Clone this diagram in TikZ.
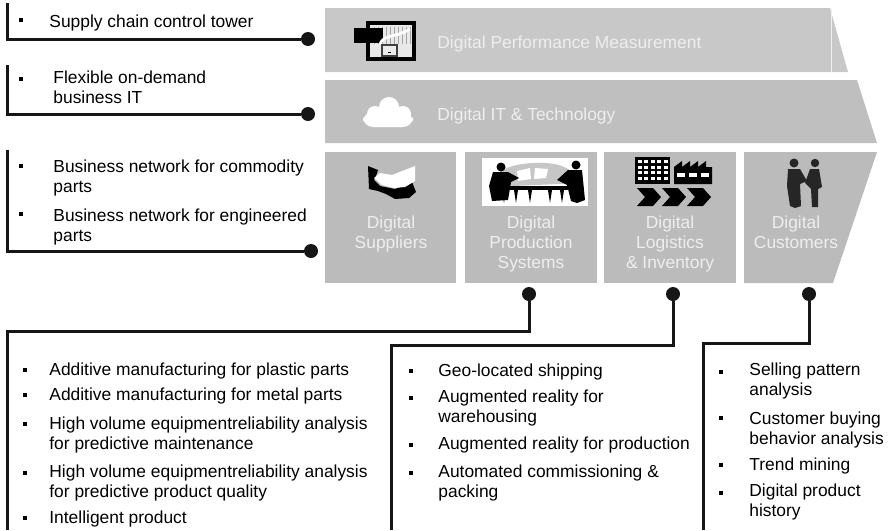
\documentclass[tikz,border=0pt]{standalone}
\usepackage{fontspec}
\setmainfont{Liberation Sans}
\usepackage{tikz}
\usetikzlibrary{positioning}

\definecolor{bandTop}{RGB}{200,200,200}
\definecolor{bandMid}{RGB}{191,191,191}
\definecolor{tile}{RGB}{187,187,187}
\definecolor{tileText}{RGB}{238,238,238}
\definecolor{linkBlack}{RGB}{22,22,22}

\newcommand{\listfont}{\fontsize{8.7pt}{10pt}\selectfont}

\begin{document}
\begin{tikzpicture}[x=0.5pt, y=-0.5pt,
		tiletext/.style={font=\listfont, text=tileText, align=center, inner sep=0, anchor=base},
		bandtext/.style={font=\listfont, text=tileText, inner sep=0, anchor=base west},
		item/.style={font=\listfont, align=left, inner sep=0, anchor=base west},
		pin/.style={circle, fill=linkBlack, minimum size=7pt, inner sep=0},
		link/.style={line width=1.5pt, draw=linkBlack}
		]
		\useasboundingbox (0,0) rectangle (888,530);

		% bands and tiles
		\fill[bandTop] (325,8) -- (830,8) -- (848,72) -- (325,72) -- cycle;
		\draw[white!88!gray, line width=0.4pt] (831,8) -- (831,72);
		\fill[bandMid] (325,80) -- (857,80) -- (877,143) -- (325,143) -- cycle;
		\fill[tile] (325,152) rectangle (456,283);
		\fill[tile] (465,152) rectangle (597,283);
		\fill[tile] (604,152) rectangle (736,283);
		\fill[tile] (744,152) -- (877,152) -- (833,283) -- (744,283) -- cycle;

		% (base of a multi-line node = its last line)
		\node[bandtext] (pm) at (437,48) {Digital Performance Measurement};
		\node[bandtext] (it) at (437,120) {Digital IT \& Technology};
		\node[tiletext] (sup) at (391,248) {Digital\\Suppliers};
		\node[tiletext] (prod) at (531,268) {Digital\\Production\\Systems};
		\node[tiletext] (log) at (670,268) {Digital\\Logistics\\\& Inventory};
		\node[tiletext] (cus) at (796,248) {Digital\\Customers};

		% icon: monitor with chart
		\fill[black] (366,21) rectangle (416,61);
		\fill[white!82!gray] (370,25) rectangle (412,57);
		\foreach \gx in {374,378,...,410} \draw[gray!70, line width=0.2pt] (\gx,27) -- (\gx,44);
		\fill[black] (354,28) rectangle (383,43);
		\draw[white, line width=1.4pt] (380,44) .. controls (384,34) and (396,38) .. (410,29);
		\draw[black!75, line width=0.6pt, fill=white!85!gray] (382,45) rectangle (397,56);
		\fill[black] (388,52) rectangle (391,53);

		% icon: cloud
		\fill[white] (375,114) circle (8) (389,107) circle (10) (403,114) circle (8);
		\fill[white, rounded corners=5] (363,112) rectangle (413,127);

		% icon: handshake
		\fill[black] (368,166) -- (378,170) -- (376,176) -- (374,180) -- (380,186) -- (395,189)
			-- (412,182) -- (416,192) -- (409,198) -- (395,199) -- (386,194) -- (378,191) -- (369,189) -- cycle;
		\fill[white] (374,178) -- (380,173) -- (392,175) -- (415,166) -- (415,181) -- (405,187)
			-- (394,188) -- (382,185) -- cycle;

		% icon: assembly line picture
		\fill[white] (482,158) rectangle (588,206);
		\fill[gray!45] (491,180) .. controls (500,167) and (520,162) .. (545,163)
			.. controls (565,164) and (576,172) .. (581,183) -- (491,187) -- cycle;
		\fill[white] (517,171) -- (530,168) -- (531,179) -- (518,181) -- cycle;
		\fill[white] (535,168) -- (548,169) -- (546,178) -- (534,179) -- cycle;
		\fill[black] (490,186) rectangle (576,190);
		\foreach \lx in {502,514,528,548,560} \fill[black] (\lx,190) -- (\lx+2,203) -- (\lx+4,190) -- cycle;
		\fill[black] (501,167) circle (4.5);
		\fill[black] (493,172) -- (508,172) -- (519,178) -- (511,182) -- (508,200) -- (492,201) -- (489,186) -- cycle;
		\fill[black] (576,165) circle (4.5);
		\fill[black] (568,170) -- (582,170) -- (585,200) -- (577,203) -- (571,201) -- (567,185) -- (557,180) -- cycle;

		% icon: warehouse, factory and flow
		\fill[black] (635,157) rectangle (670,184);
		\foreach \i in {0,...,4}
			\foreach \j in {0,...,3}
				\fill[white] (638+\i*6.4,160+\j*5.6) rectangle ++(4,3.2);
		\fill[black] (674,184) -- (674,167) -- (682,161) -- (682,167) -- (690,161) -- (690,167)
			-- (698,161) -- (698,167) -- (706,161) -- (706,167) -- (712,167) -- (712,184) -- cycle;
		\foreach \wx in {677,689,701} \fill[white] (\wx,173) rectangle ++(8,4);
		\foreach \cx in {637,662,687}
			\fill[black] (\cx,188) -- (\cx+16,188) -- (\cx+24,197) -- (\cx+16,206) -- (\cx,206) -- (\cx+8,197) -- cycle;

		% icon: two people shaking hands
		\fill[black!85] (794,163) circle (4.5);
		\fill[black!85] (788,169) -- (800,169) -- (807,181) -- (800,184) -- (801,206) -- (795,208)
			-- (790,206) -- (787,186) -- cycle;
		\fill[black!85] (815,163) circle (4.2);
		\fill[black!85] (810,169) -- (819,169) -- (822,187) -- (818,189) -- (818,207) -- (812,207)
			-- (811,189) -- (805,183) -- cycle;

		% text lists
		\node[item] (t1) at (49,27) {Supply chain control tower};
		\node[item] (t2) at (53,103) {Flexible on-demand\\business IT};
		\node[item] (t3) at (53,192) {Business network for commodity\\parts};
		\node[item] (t4) at (53,241) {Business network for engineered\\parts};

		\node[item] (b1) at (49,375) {Additive manufacturing for plastic parts};
		\node[item] (b2) at (49,400) {Additive manufacturing for metal parts};
		\node[item] (b3) at (49,449) {High volume equipmentreliability analysis\\for predictive maintenance};
		\node[item] (b4) at (49,497) {High volume equipmentreliability analysis\\for predictive product quality};
		\node[item] (b5) at (49,523) {Intelligent product};

		\node[item] (m1) at (438,376) {Geo-located shipping};
		\node[item] (m2) at (438,422) {Augmented reality for\\warehousing};
		\node[item] (m3) at (438,449) {Augmented reality for production};
		\node[item] (m4) at (438,497) {Automated commissioning \&\\packing};

		\node[item] (r1) at (749,395) {Selling pattern\\analysis};
		\node[item] (r2) at (749,444) {Customer buying\\behavior analysis};
		\node[item] (r3) at (749,470) {Trend mining};
		\node[item] (r4) at (749,516) {Digital product\\history};

		\foreach \bx/\by in {21/20, 21/79, 21/166, 21/214,
				25/370, 25/395, 25/424, 25/473, 25/518,
				411/371, 411/398, 411/445, 411/473,
				721/372, 721/418, 721/465, 721/493}
			\fill[black] (\bx-2,\by-2) rectangle ++(4,4);

		% pins and links
		\node[pin] (pPM) at (308,39) {};
		\node[pin] (pIT) at (308,114) {};
		\node[pin] (pSup) at (311,251) {};
		\node[pin] (pProd) at (529,294) {};
		\node[pin] (pLog) at (673,294) {};
		\node[pin] (pCus) at (809,294) {};

		\coordinate (kPM) at (7,3);
		\coordinate (kIT) at (7,65);
		\coordinate (kSup) at (7,150);
		\coordinate (kProd) at (7,331);
		\coordinate (eProd) at (7,530);
		\coordinate (kLog) at (391,345);
		\coordinate (eLog) at (391,530);
		\coordinate (kCus) at (703,343);
		\coordinate (eCus) at (703,530);

		\draw[link] (kPM) |- (pPM);
		\draw[link] (kIT) |- (pIT);
		\draw[link] (kSup) |- (pSup);
		\draw[link] (pProd) |- (kProd) -- (eProd);
		\draw[link] (pLog) |- (kLog) -- (eLog);
		\draw[link] (pCus) |- (kCus) -- (eCus);
	\end{tikzpicture}
\end{document}
